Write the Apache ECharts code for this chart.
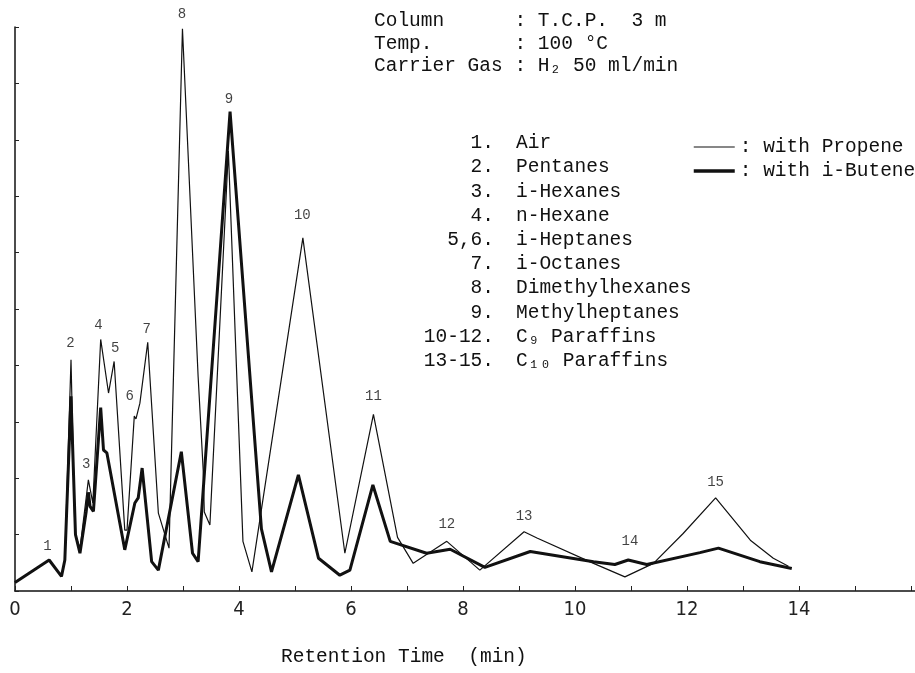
<!DOCTYPE html>
<html>
<head>
<meta charset="utf-8">
<script src="https://cdn.jsdelivr.net/npm/echarts@6/dist/echarts.min.js"></script>
<style>
html, body { margin: 0; padding: 0; background: #fff; }
#chart { width: 915px; height: 673px; }
</style>
</head>
<body>
<div id="chart"></div>
<script>
// retention time (min) and detector signal
let propeneTime = [0, 0.61, 0.83, 0.89, 1.0, 1.07, 1.16, 1.31, 1.39, 1.53, 1.67, 1.77, 1.96, 2.0, 2.13, 2.16, 2.23, 2.37, 2.56, 2.75, 2.99, 3.27, 3.36, 3.38, 3.48, 3.81, 4.07, 4.23, 5.14, 5.89, 6.4, 6.83, 7.11, 7.71, 8.3, 9.09, 9.32, 10.33, 10.89, 11.4, 11.93, 12.51, 13.13, 13.54, 13.81]
let propeneSignal = [0.15, 0.55, 0.26, 0.55, 4.1, 1.03, 0.75, 1.97, 1.56, 4.46, 3.51, 4.07, 1.08, 1.08, 3.1, 3.05, 3.33, 4.41, 1.38, 0.76, 9.97, 3.8, 2.15, 1.4, 1.17, 7.8, 0.88, 0.34, 6.26, 0.67, 3.13, 0.95, 0.49, 0.88, 0.37, 1.05, 0.94, 0.49, 0.25, 0.49, 1.02, 1.65, 0.9, 0.58, 0.44]

let butenTime = [0, 0.61, 0.83, 0.89, 1.0, 1.08, 1.16, 1.27, 1.31, 1.34, 1.4, 1.53, 1.58, 1.64, 1.96, 2.14, 2.2, 2.27, 2.44, 2.56, 2.97, 3.17, 3.27, 3.84, 4.4, 4.58, 5.06, 5.42, 5.8, 5.98, 6.39, 6.7, 7.35, 7.77, 8.39, 9.2, 10.33, 10.71, 10.95, 11.28, 12.23, 12.56, 13.3, 13.87]
let butenSignal = [0.15, 0.55, 0.26, 0.55, 3.45, 1.0, 0.67, 1.4, 1.75, 1.5, 1.41, 3.25, 2.5, 2.45, 0.73, 1.56, 1.65, 2.18, 0.52, 0.37, 2.47, 0.67, 0.52, 8.5, 1.1, 0.34, 2.06, 0.58, 0.28, 0.37, 1.88, 0.88, 0.67, 0.74, 0.42, 0.7, 0.52, 0.47, 0.55, 0.47, 0.68, 0.76, 0.52, 0.4]

// peak numbers and where they are written
let peakNames = ['1', '2', '3', '4', '5', '6', '7', '8', '9', '10', '11', '12', '13', '14', '15']
let peakX = [0.58, 0.99, 1.27, 1.49, 1.79, 2.05, 2.35, 2.98, 3.82, 5.13, 6.4, 7.71, 9.09, 10.98, 12.51]
let peakY = [0.79, 4.4, 2.24, 4.71, 4.31, 3.46, 4.64, 10.23, 8.72, 6.66, 3.45, 1.19, 1.33, 0.89, 1.93]

let seriesNames = ['with Propene', 'with i-Butene']
let lineWidths = [1.2, 3]
let xTicks = [0, 2, 4, 6, 8, 10, 12, 14]

let conditions = [
    'Column      : T.C.P.  3 m',
    'Temp.       : 100 °C',
    'Carrier Gas : H₂ 50 ml/min'
]
let compoundNo = ['1.', '2.', '3.', '4.', '5,6.', '7.', '8.', '9.', '10-12.', '13-15.']
let compoundName = ['Air', 'Pentanes', 'i-Hexanes', 'n-Hexane', 'i-Heptanes', 'i-Octanes', 'Dimethylhexanes', 'Methylheptanes', 'C₉ Paraffins', 'C₁₀ Paraffins']

function pairs(xs, ys) {
    let out = []
    for (let i = 0; i < xs.length; i++) {
        out.push([xs[i], ys[i]])
    }
    return out
}

let peakData = []
for (let i = 0; i < peakNames.length; i++) {
    peakData.push({name: peakNames[i], value: [peakX[i], peakY[i]]})
}

const mono = "'Liberation Mono', 'Courier New', 'DejaVu Sans Mono', monospace"
const narrow = "'Liberation Sans Narrow', 'DejaVu Sans Condensed', 'Liberation Sans', sans-serif"
const monoFont = "19.5px 'Liberation Mono', 'Courier New', monospace"

let option = {
    backgroundColor: '#fff',
    animation: false,
    grid: {left: 15, right: 0, top: 27, bottom: 82},
    legend: {
        data: [
            {name: seriesNames[0], lineStyle: {width: lineWidths[0], color: '#111'}},
            {name: seriesNames[1], lineStyle: {width: lineWidths[1] + 0.5, color: '#111'}}
        ],
        orient: 'vertical',
        left: 687,
        top: 132,
        itemWidth: 41,
        itemHeight: 20,
        itemGap: 4,
        itemStyle: {opacity: 0},
        formatter: ': {name}',
        textStyle: {fontFamily: mono, fontSize: 19.5, color: '#111'}
    },
    xAxis: {
        type: 'value',
        min: 0,
        max: 16.07,
        interval: 1,
        axisLine: {lineStyle: {color: '#111', width: 1.5}},
        axisTick: {inside: true, length: 5, lineStyle: {color: '#222'}},
        splitLine: {show: false},
        axisLabel: {
            margin: 9,
            fontFamily: narrow,
            fontSize: 20,
            color: '#222',
            showMaxLabel: false,
            formatter: function (v) {
                return xTicks.indexOf(v) >= 0 ? String(v) : ''
            }
        }
    },
    yAxis: {
        type: 'value',
        min: 0,
        max: 10,
        interval: 1,
        axisLine: {show: true, lineStyle: {color: '#111', width: 1.5}},
        axisTick: {show: true, inside: true, length: 4, lineStyle: {color: '#222'}},
        axisLabel: {show: false},
        splitLine: {show: false}
    },
    series: [
        {
            name: seriesNames[0],
            type: 'line',
            data: pairs(propeneTime, propeneSignal),
            symbol: 'none',
            lineStyle: {color: '#111', width: lineWidths[0]},
            itemStyle: {color: '#111'}
        },
        {
            name: seriesNames[1],
            type: 'line',
            data: pairs(butenTime, butenSignal),
            symbol: 'none',
            lineStyle: {color: '#111', width: lineWidths[1]},
            itemStyle: {color: '#111'}
        },
        {
            name: 'peaks',
            type: 'scatter',
            data: peakData,
            symbolSize: 0,
            silent: true,
            clip: false,
            label: {
                show: true,
                position: 'inside',
                formatter: '{b}',
                fontFamily: mono,
                fontSize: 14,
                color: '#111'
            }
        }
    ],
    graphic: [
        {
            type: 'text',
            left: 374,
            top: 10,
            style: {text: conditions.join('\n'), font: monoFont, lineHeight: 22.5, fill: '#111'}
        },
        {
            type: 'text',
            right: 915 - 494,
            top: 131,
            style: {text: compoundNo.join('\n'), font: monoFont, lineHeight: 24.2, textAlign: 'right', fill: '#111'}
        },
        {
            type: 'text',
            left: 516,
            top: 131,
            style: {text: compoundName.join('\n'), font: monoFont, lineHeight: 24.2, fill: '#111'}
        },
        {
            type: 'text',
            left: 281,
            top: 647,
            style: {text: 'Retention Time  (min)', font: monoFont, fill: '#111'}
        }
    ]
}

const dom = document.getElementById('chart')
const myChart = echarts.init(dom)
myChart.setOption(option, true)
</script>
</body>
</html>
